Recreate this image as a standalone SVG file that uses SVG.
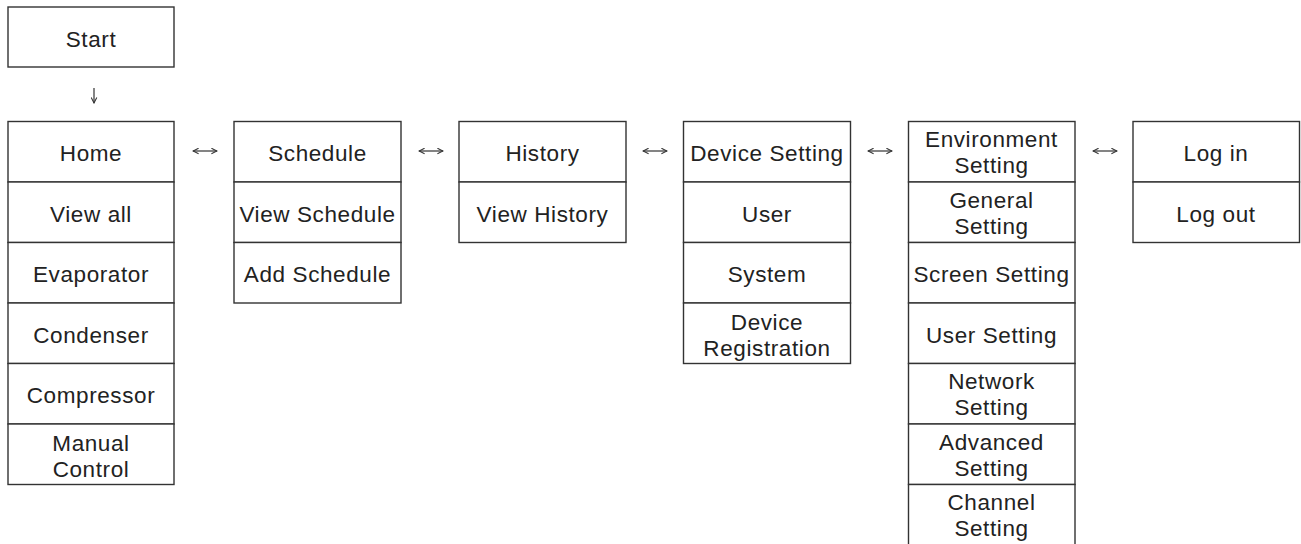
<svg xmlns="http://www.w3.org/2000/svg" width="1301" height="544" viewBox="0 0 1301 544">
  <style>
    .cell { fill: #ffffff; stroke: #333333; stroke-width: 1.4; }
    .lbl { font-family: "Liberation Sans", Arial, sans-serif; font-size: 22.5px; letter-spacing: 0.6px; fill: #222222; text-anchor: middle; }
    .link { fill: none; stroke: #333333; stroke-width: 1.2; }
  </style>
  <defs>
    <marker id="head" viewBox="0 0 10 10" refX="9" refY="5" markerWidth="7" markerHeight="7" markerUnits="userSpaceOnUse" orient="auto-start-reverse">
      <path d="M1,1 L9,5 L1,9" fill="none" stroke="#333333" stroke-width="1.5"/>
    </marker>
  </defs>

  <rect width="1301" height="544" fill="#ffffff"/>

  <!-- entry -->
  <g id="start">
    <rect class="cell" x="8" y="7" width="166" height="60"/>
    <text class="lbl" x="91" y="46.5">Start</text>
  </g>

  <!-- connectors -->
  <g id="connectors">
    <path class="link" d="M94,88 V103" marker-end="url(#head)"/>
    <path class="link" d="M193,151 H217" marker-start="url(#head)" marker-end="url(#head)"/>
    <path class="link" d="M419,151 H443" marker-start="url(#head)" marker-end="url(#head)"/>
    <path class="link" d="M643,151 H667" marker-start="url(#head)" marker-end="url(#head)"/>
    <path class="link" d="M868,151 H892" marker-start="url(#head)" marker-end="url(#head)"/>
    <path class="link" d="M1093,151 H1117" marker-start="url(#head)" marker-end="url(#head)"/>
  </g>

  <!-- Home menu -->
  <g id="home">
    <rect class="cell" x="8" y="121.5" width="166" height="60.5"/>
    <text class="lbl" x="91" y="161">Home</text>
    <rect class="cell" x="8" y="182" width="166" height="60.5"/>
    <text class="lbl" x="91" y="221.5">View all</text>
    <rect class="cell" x="8" y="242.5" width="166" height="60.5"/>
    <text class="lbl" x="91" y="282">Evaporator</text>
    <rect class="cell" x="8" y="303" width="166" height="60.5"/>
    <text class="lbl" x="91" y="342.5">Condenser</text>
    <rect class="cell" x="8" y="363.5" width="166" height="60.5"/>
    <text class="lbl" x="91" y="403">Compressor</text>
    <rect class="cell" x="8" y="424" width="166" height="60.5"/>
    <text class="lbl" x="91" y="451">Manual</text>
    <text class="lbl" x="91" y="477">Control</text>
  </g>

  <!-- Schedule menu -->
  <g id="schedule">
    <rect class="cell" x="234" y="121.5" width="167" height="60.5"/>
    <text class="lbl" x="317.5" y="161">Schedule</text>
    <rect class="cell" x="234" y="182" width="167" height="60.5"/>
    <text class="lbl" x="317.5" y="221.5">View Schedule</text>
    <rect class="cell" x="234" y="242.5" width="167" height="60.5"/>
    <text class="lbl" x="317.5" y="282">Add Schedule</text>
  </g>

  <!-- History menu -->
  <g id="history">
    <rect class="cell" x="459" y="121.5" width="167" height="60.5"/>
    <text class="lbl" x="542.5" y="161">History</text>
    <rect class="cell" x="459" y="182" width="167" height="60.5"/>
    <text class="lbl" x="542.5" y="221.5">View History</text>
  </g>

  <!-- Device Setting menu -->
  <g id="device-setting">
    <rect class="cell" x="683.5" y="121.5" width="167" height="60.5"/>
    <text class="lbl" x="767" y="161">Device Setting</text>
    <rect class="cell" x="683.5" y="182" width="167" height="60.5"/>
    <text class="lbl" x="767" y="221.5">User</text>
    <rect class="cell" x="683.5" y="242.5" width="167" height="60.5"/>
    <text class="lbl" x="767" y="282">System</text>
    <rect class="cell" x="683.5" y="303" width="167" height="60.5"/>
    <text class="lbl" x="767" y="330">Device</text>
    <text class="lbl" x="767" y="356">Registration</text>
  </g>

  <!-- Environment Setting menu -->
  <g id="environment-setting">
    <rect class="cell" x="908.5" y="121.5" width="166.5" height="60.5"/>
    <text class="lbl" x="991.5" y="147">Environment</text>
    <text class="lbl" x="991.5" y="173">Setting</text>
    <rect class="cell" x="908.5" y="182" width="166.5" height="60.5"/>
    <text class="lbl" x="991.5" y="207.5">General</text>
    <text class="lbl" x="991.5" y="233.5">Setting</text>
    <rect class="cell" x="908.5" y="242.5" width="166.5" height="60.5"/>
    <text class="lbl" x="991.5" y="282">Screen Setting</text>
    <rect class="cell" x="908.5" y="303" width="166.5" height="60.5"/>
    <text class="lbl" x="991.5" y="342.5">User Setting</text>
    <rect class="cell" x="908.5" y="363.5" width="166.5" height="60.5"/>
    <text class="lbl" x="991.5" y="389">Network</text>
    <text class="lbl" x="991.5" y="415">Setting</text>
    <rect class="cell" x="908.5" y="424" width="166.5" height="60.5"/>
    <text class="lbl" x="991.5" y="449.5">Advanced</text>
    <text class="lbl" x="991.5" y="475.5">Setting</text>
    <rect class="cell" x="908.5" y="484.5" width="166.5" height="62"/>
    <text class="lbl" x="991.5" y="510">Channel</text>
    <text class="lbl" x="991.5" y="536">Setting</text>
  </g>

  <!-- Account menu -->
  <g id="account">
    <rect class="cell" x="1133" y="121.5" width="166.5" height="60.5"/>
    <text class="lbl" x="1216" y="161">Log in</text>
    <rect class="cell" x="1133" y="182" width="166.5" height="60.5"/>
    <text class="lbl" x="1216" y="221.5">Log out</text>
  </g>
</svg>
